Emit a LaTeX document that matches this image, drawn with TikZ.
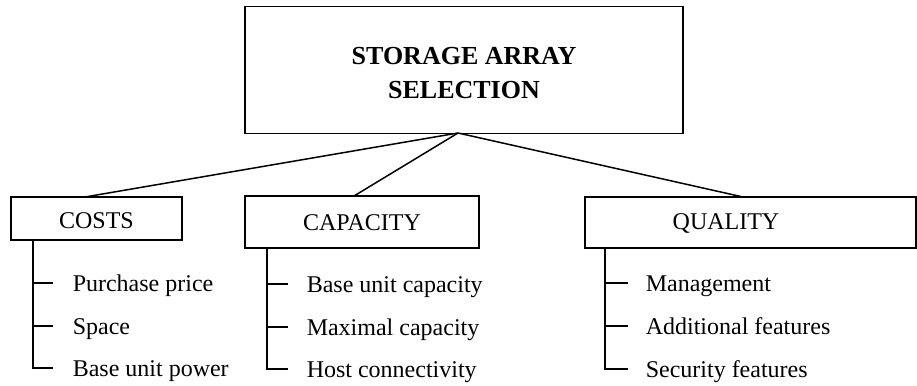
\documentclass[tikz,border=0pt]{standalone}
\usepackage{fontspec}
\setmainfont{Liberation Serif}
\usetikzlibrary{positioning}

\begin{document}
\begin{tikzpicture}[x=1pt,y=-1pt,line width=1.5pt,
  box/.style={rectangle,draw,inner sep=0pt,font=\fontsize{24}{28}\selectfont},
  item/.style={anchor=west,inner sep=0pt,text height=16pt,text depth=0pt,font=\fontsize{24}{28}\selectfont}]
\useasboundingbox (0,0) rectangle (917,385);
% Top box
\node[box,minimum width=438pt,minimum height=127pt,align=center,text height=57pt,font=\fontsize{26}{34}\selectfont\bfseries] (sel) at (464,70) {STORAGE ARRAY\\SELECTION};
\coordinate (apex) at (458,133);
% Criteria
\node[box,minimum width=171pt,minimum height=43pt,text height=20pt,text depth=0pt] (costs) at (96.5,218.5) {COSTS};
\node[box,minimum width=234pt,minimum height=52pt,text height=16pt,text depth=0pt] (capacity) at (362,222) {CAPACITY};
\node[box,minimum width=331pt,minimum height=51pt] (quality) at (750.5,222.5) {};
\node[inner sep=0pt,text height=16pt,text depth=0pt,font=\fontsize{24}{28}\selectfont] (qualtxt) at (726,221) {QUALITY};
\coordinate (costin) at (85,197);
\coordinate (capin) at (354,196);
\coordinate (qualin) at (743,197);
\draw (apex) -- (costin);
\draw (apex) -- (capin);
\draw (apex) -- (qualin);
% Costs items
\node[item] (c1) at (72,283) {Purchase price};
\node[item] (c2) at (72,326) {Space};
\node[item] (c3) at (72,368) {Base unit power};
\coordinate (costtop) at (33,240);
\draw (costtop) |- ([xshift=-19pt]c3.west);
\draw ([xshift=-39pt]c1.west) -- ([xshift=-19pt]c1.west);
\draw ([xshift=-39pt]c2.west) -- ([xshift=-19pt]c2.west);
% Capacity items
\node[item] (p1) at (306,284) {Base unit capacity};
\node[item] (p2) at (306,327) {Maximal capacity};
\node[item] (p3) at (306,369) {Host connectivity};
\coordinate (captop) at (267,248);
\draw (captop) |- ([xshift=-18pt]p3.west);
\draw ([xshift=-39pt]p1.west) -- ([xshift=-18pt]p1.west);
\draw ([xshift=-39pt]p2.west) -- ([xshift=-18pt]p2.west);
% Quality items
\node[item] (q1) at (645,283) {Management};
\node[item] (q2) at (645,326) {Additional features};
\node[item] (q3) at (645,369) {Security features};
\coordinate (qualtop) at (605,248);
\draw (qualtop) |- ([xshift=-17pt]q3.west);
\draw ([xshift=-40pt]q1.west) -- ([xshift=-17pt]q1.west);
\draw ([xshift=-40pt]q2.west) -- ([xshift=-17pt]q2.west);
\end{tikzpicture}
\end{document}
